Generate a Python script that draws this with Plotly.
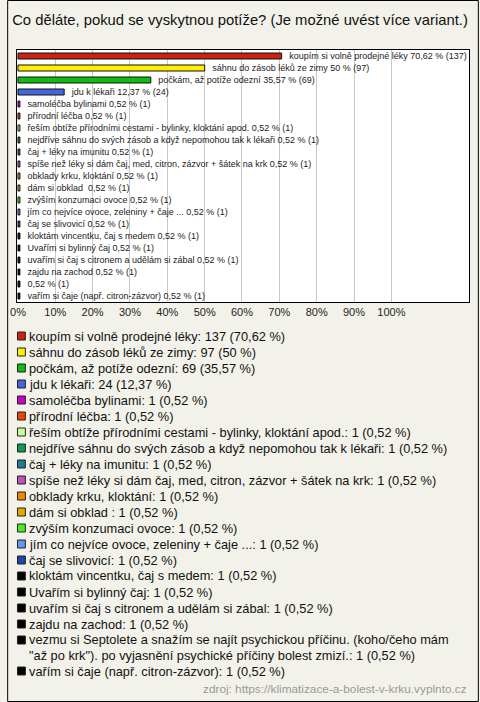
import textwrap
import plotly.graph_objects as go

# ---------------- data ----------------
legend_labels = [
    "koupím si volně prodejné léky",
    "sáhnu do zásob léků ze zimy",
    "počkám, až potíže odezní",
    "jdu k lékaři",
    "samoléčba bylinami",
    "přírodní léčba",
    "řeším obtíže přírodními cestami - bylinky, kloktání apod.",
    "nejdříve sáhnu do svých zásob a když nepomohou tak k lékaři",
    "čaj + léky na imunitu",
    "spíše než léky si dám čaj, med, citron, zázvor + šátek na krk",
    "obklady krku, kloktání",
    "dám si obklad ",
    "zvýším konzumaci ovoce",
    "jím co nejvíce ovoce, zeleniny + čaje ...",
    "čaj se slivovicí",
    "kloktám vincentku, čaj s medem",
    "Uvařím si bylinný čaj",
    "uvařím si čaj s citronem a udělám si zábal",
    "zajdu na zachod",
    "vezmu si Septolete a snažím se najít psychickou příčinu. (koho/čeho mám \"až po krk\"). po vyjasnění psychické příčiny bolest zmizí.",
    "vařím si čaje (např. citron-zázvor)",
]
bar_labels = legend_labels[:19] + ["", legend_labels[20]]
counts = [137, 97, 69, 24, 1, 1, 1, 1, 1, 1, 1, 1, 1, 1, 1, 1, 1, 1, 1, 1, 1]
percents = [70.62, 50, 35.57, 12.37, 0.52, 0.52, 0.52, 0.52, 0.52, 0.52, 0.52,
            0.52, 0.52, 0.52, 0.52, 0.52, 0.52, 0.52, 0.52, 0.52, 0.52]
colors = ["#cc2211", "#ffee00", "#11bb11", "#4466dd", "#cc00cc", "#ee4400",
          "#ccff99", "#119955", "#227799", "#bb55bb", "#ee8800", "#ddaa00",
          "#44ee22", "#6699ee", "#2244aa", "#000000", "#000000", "#000000",
          "#000000", "#000000", "#000000"]
tick_vals = [0, 10, 20, 30, 40, 50, 60, 70, 80, 90, 100]
tick_text = ["0%", "10%", "20%", "30%", "40%", "50%", "60%", "70%", "80%", "90%", "100%"]

title_text = "Co děláte, pokud se vyskytnou potíže? (Je možné uvést více variant.)"
source_text = "zdroj: https://klimatizace-a-bolest-v-krku.vyplnto.cz"


def fmt(p):
    s = f"{p:.2f}".rstrip("0").rstrip(".")
    return s.replace(".", ",")


cats = [f"c{i}" for i in range(len(counts))]
bar_texts = ["\u00a0\u00a0\u00a0" + f"{lab} {fmt(p)} % ({n})".strip()
             for lab, p, n in zip(bar_labels, percents, counts)]

W, H = 480, 702
L, R, T, B = 10, 10, 50, 400
PW = W - L - R
PH = H - T - B


def px_x(x):
    return (x - L) / PW


def px_y(y):
    return (H - B - y) / PH


fig = go.Figure()
fig.add_trace(go.Bar(
    y=cats, x=percents, orientation="h",
    marker=dict(color=colors, line=dict(color="#111111", width=1)),
    width=0.5,
    text=bar_texts, textposition="outside", constraintext="none",
    cliponaxis=False,
    outsidetextfont=dict(size=9, color="#222222", family="Liberation Sans, Arial"),
    hoverinfo="skip", showlegend=False,
))

annotations = []
shapes = []

# legend
y = 336
for lab, n, p, c in zip(legend_labels, counts, percents, colors):
    s = f"{lab}: {n} ({fmt(p)} %)"
    lines = textwrap.wrap(s, 74)
    shapes.append(dict(
        type="rect", xref="paper", yref="paper",
        x0=px_x(10.5), x1=px_x(18.5), y0=px_y(y + 4), y1=px_y(y - 4),
        fillcolor=c, line=dict(color="#222222", width=1), layer="above",
    ))
    for k, ln in enumerate(lines):
        annotations.append(dict(
            x=px_x(20), y=px_y(y), xref="paper", yref="paper",
            xanchor="left", yanchor="middle", align="left",
            text=ln, showarrow=False,
            font=dict(size=12.8, color="#111111", family="Liberation Sans, Arial"),
        ))
        y += 15 if k < len(lines) - 1 else 16

annotations.append(dict(
    x=px_x(470), y=px_y(689), xref="paper", yref="paper",
    xanchor="right", yanchor="middle", text=source_text, showarrow=False,
    font=dict(size=11.8, color="#999999", family="Liberation Sans, Arial"),
))

# outer frame
shapes.append(dict(
    type="rect", xref="paper", yref="paper",
    x0=px_x(0.5), x1=px_x(W - 0.5), y0=px_y(H - 0.5), y1=px_y(0.5),
    line=dict(color="#000000", width=1), fillcolor="rgba(0,0,0,0)", layer="above",
))

fig.update_layout(
    width=W, height=H,
    margin=dict(l=L, r=R, t=T, b=B, pad=0),
    paper_bgcolor="#f3f2ea", plot_bgcolor="#ffffff",
    font=dict(family="Liberation Sans, Arial", color="#222222"),
    title=dict(text=title_text, x=0.5, xref="container", xanchor="center",
               y=1 - 20 / H, yref="container", yanchor="middle",
               font=dict(size=14.8, color="#111111")),
    annotations=annotations, shapes=shapes,
    showlegend=False,
)
fig.update_xaxes(
    range=[-0.26, 120.8], tickvals=tick_vals, ticktext=tick_text,
    showgrid=True, gridcolor="#c8c8c8", gridwidth=1, zeroline=False,
    showline=True, mirror=True, linecolor="#000000", linewidth=1,
    ticks="", tickfont=dict(size=11, color="#222222"), fixedrange=True,
)
fig.update_yaxes(
    type="category", autorange="reversed", showticklabels=False,
    showgrid=False, zeroline=False, showline=True, mirror=True,
    linecolor="#000000", linewidth=1, ticks="", fixedrange=True,
)

fig.write_html(
    "out.html",
    config={"displayModeBar": False},
    post_script="document.body.style.margin='0';document.body.style.overflow='hidden';",
)
